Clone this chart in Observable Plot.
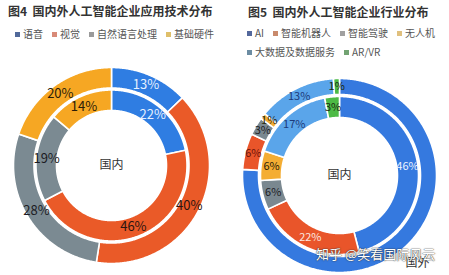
<!DOCTYPE html>
<html><head><meta charset="utf-8">
<script src="https://cdn.jsdelivr.net/npm/d3@7"></script>
<script src="https://cdn.jsdelivr.net/npm/@observablehq/plot@0.6"></script>
<style>
body{margin:0;background:#fff;font-family:"Noto Sans CJK SC","Noto Sans",sans-serif;}
#wrap{position:relative;width:449px;height:275px;overflow:hidden;background:#fff;}
.t{position:absolute;font-size:12px;font-weight:bold;color:#333;white-space:pre;line-height:1;}
.lg{position:absolute;font-size:10px;color:#555;white-space:nowrap;line-height:1;display:flex;align-items:center;gap:9px;}
.it{display:flex;align-items:center;}
.sw{display:inline-block;width:5px;height:5px;margin-right:3px;}
.panel{position:absolute;top:60px;}
.wm{position:absolute;font-size:13px;color:#fff;white-space:nowrap;line-height:1;text-shadow:0 0 1.5px #333,0 0 1px #333;}
</style></head><body><div id="wrap"></div>
<script>
// ---- data ----
const techTitle = "图4  国内外人工智能企业应用技术分布";
const techCats = ["语音", "视觉", "自然语言处理", "基础硬件"];
const techDomestic = [22, 46, 19, 14];   // inner ring (国内)
const techForeign = [13, 40, 28, 20];    // outer ring (国外)
const techColors = ["#2f7de2", "#ea5a28", "#7b8a92", "#f6a723"];
const techLegendColors = ["#51699a", "#d88a78", "#9a9a9a", "#dfbf6a"];
const techInnerLabelColors = ["#e6f0ff", "#2a1410", "#1c1c24", "#2a1c08"];
const techOuterLabelColors = ["#e6f0ff", "#2a1410", "#1c1c24", "#2a1c08"];

const indTitle = "图5  国内外人工智能企业行业分布";
const indCats = ["AI", "智能机器人", "智能驾驶", "无人机", "大数据及数据服务", "AR/VR"];
const indDomestic = [46, 22, 6, 6, 17, 3];   // inner ring (国内)
const indForeign = [76, 6, 3, 1, 13, 1];     // outer ring (国外)
const indForeignHidden = ["AI"];             // no label drawn in reference
const indColors = ["#3579df", "#e9552a", "#7a8890", "#f4ad33", "#5aa5ea", "#4dba45"];
const indLegendColors = ["#53689c", "#c98a6c", "#a0a0a0", "#e0c07e", "#6c8ca2", "#72a372"];
const indInnerLabelColors = ["#eef4ff", "#fbe8e0", "#1c1c24", "#2a1c08", "#1d3b7a", "#1a2a10"];
const indOuterLabelColors = ["#eef4ff", "#6a1208", "#1c1c24", "#2a2a10", "#1d3b7a", "#1a2a10"];

const innerName = "国内";
const outerName = "国外";
const watermark = "知乎 @笑看国际风云";

// ---- helpers ----
const U = 0.5; // degrees of arc per pixel of radius
function sector(t0, t1, r0, r1, props) {
  const n = Math.max(2, Math.ceil((t1 - t0) * 720));
  const ring = [];
  for (let i = 0; i <= n; i++) { const t = t0 + (t1 - t0) * i / n; ring.push([180 - 360 * t, 90 - r1 * U]); }
  for (let i = n; i >= 0; i--) { const t = t0 + (t1 - t0) * i / n; ring.push([180 - 360 * t, 90 - r0 * U]); }
  ring.push(ring[0].slice());
  const f = {type: "Feature", properties: props, geometry: {type: "Polygon", coordinates: [ring]}};
  if (d3.geoArea(f) > 2 * Math.PI) ring.reverse();
  return f;
}
function polar(theta, r) { return {lon: 180 - theta, lat: 90 - r * U}; }

function donut(cfg) {
  const {cats, colors, rings, width, height, margin, R, labelSize, outerPos} = cfg;
  const slices = [], labels = [];
  for (const ring of rings) {
    const total = d3.sum(ring.values);
    let acc = 0;
    ring.values.forEach((v, i) => {
      const t0 = acc / total, t1 = (acc + v) / total; acc += v;
      slices.push(sector(t0, t1, ring.r0, ring.r1, {cat: cats[i]}));
      if (!(ring.hidden || []).includes(cats[i])) {
        const p = polar((t0 + t1) / 2 * 360, (ring.r0 + ring.r1) / 2);
        labels.push({...p, text: v + "%", color: ring.labelColors[i]});
      }
    });
  }
  const labelColors = [...new Set(labels.map(d => d.color))];
  const domainCircle = d3.geoCircle().center([0, 90]).radius(R * U)();
  return Plot.plot({
    width, height,
    marginLeft: margin[3], marginRight: margin[1], marginTop: margin[0], marginBottom: margin[2],
    projection: {type: "azimuthal-equidistant", rotate: [0, -90], domain: domainCircle, inset: 0},
    color: {domain: cats, range: colors},
    style: {fontFamily: '"Noto Sans CJK SC","Noto Sans",sans-serif', background: "transparent", overflow: "visible"},
    marks: [
      Plot.geo(slices, {fill: d => d.properties.cat, stroke: "white", strokeWidth: 1.6}),
      ...labelColors.map(c => Plot.text(labels.filter(d => d.color === c), {x: "lon", y: "lat", text: "text", fill: c, fontSize: labelSize})),
      Plot.text([polar(0, 0)], {x: "lon", y: "lat", text: () => innerName, fill: "#333", fontSize: 12}),
      Plot.text([polar(outerPos[0], outerPos[1])], {x: "lon", y: "lat", text: () => outerName, fill: "#333", fontSize: 12})
    ]
  });
}

// ---- layout ----
const wrap = document.getElementById("wrap");
function addDiv(cls, left, top, html) {
  const d = document.createElement("div");
  d.className = cls; d.style.left = left + "px"; d.style.top = top + "px";
  if (html != null) d.innerHTML = html;
  wrap.appendChild(d); return d;
}
function legend(left, top, cats, cols) {
  const d = addDiv("lg", left, top);
  cats.forEach((c, i) => {
    const it = document.createElement("span"); it.className = "it";
    it.innerHTML = `<span class="sw" style="background:${cols[i]}"></span>${c}`;
    d.appendChild(it);
  });
  return d;
}

addDiv("t", 8, 5, techTitle);
legend(15, 29, techCats, techLegendColors);

addDiv("t", 248, 6, indTitle);
legend(247, 28, indCats.slice(0, 4), indLegendColors.slice(0, 4));
legend(247, 47, indCats.slice(4), indLegendColors.slice(4));

const p1 = addDiv("panel", 0, 60);
p1.appendChild(donut({
  cats: techCats, colors: techColors, width: 225, height: 215, margin: [7, 16, 12, 13], R: 98, labelSize: 13,
  rings: [
    {values: techForeign, r0: 77.5, r1: 98, labelColors: techOuterLabelColors},
    {values: techDomestic, r0: 55, r1: 75.5, labelColors: techInnerLabelColors}
  ],
  outerPos: [143.5, 124]
}));

const p2 = addDiv("panel", 225, 60);
p2.appendChild(donut({
  cats: indCats, colors: indColors, width: 224, height: 215, margin: [18, 13, 3, 17], R: 97, labelSize: 11,
  rings: [
    {values: indForeign, r0: 81, r1: 97, labelColors: indOuterLabelColors, hidden: indForeignHidden},
    {values: indDomestic, r0: 58, r1: 79, labelColors: indInnerLabelColors}
  ],
  outerPos: [138.4, 117.6]
}));

addDiv("wm", 316, 247, watermark);
</script></body></html>
